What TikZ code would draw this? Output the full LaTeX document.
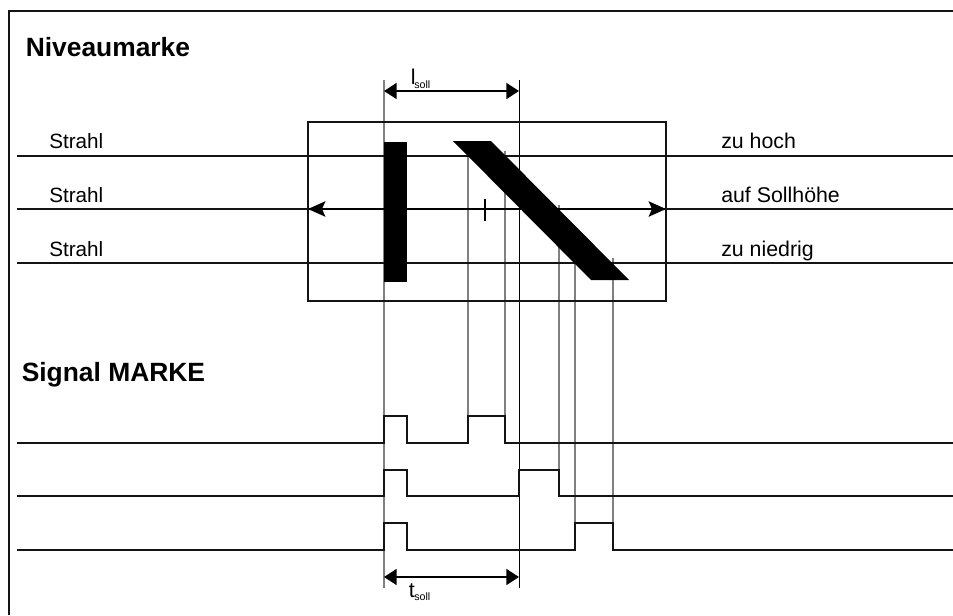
\documentclass[tikz,border=0pt]{standalone}
\usepackage{fontspec}
\setmainfont{Liberation Sans}
\usetikzlibrary{arrows.meta}
\tikzset{
  x=0.75pt,y=-0.75pt,
  frameline/.style={line width=1.9pt,black!92},
  beam/.style={line width=1.5pt,black!92},
  sig/.style={line width=1.5pt,black!92,line join=miter},
  guide/.style={line width=1pt,black!50},
  guideb/.style={line width=0.75pt,black},
  dim/.style={line width=1.2pt,black,{Triangle[length=9.5pt,width=12pt]}-{Triangle[length=9.5pt,width=12pt]}},
  head/.style={anchor=base west,inner sep=0pt,font=\fontsize{19.8}{22}\selectfont\bfseries},
  lab/.style={anchor=base west,inner sep=0pt,font=\fontsize{15.5}{18}\selectfont},
  labr/.style={anchor=base west,inner sep=0pt,font=\fontsize{16}{18}\selectfont},
  sym/.style={anchor=base west,inner sep=0pt,font=\fontsize{16}{18}\selectfont},
  sub/.style={anchor=base west,inner sep=0pt,font=\fontsize{8}{10}\selectfont},
}
\begin{document}
\begin{tikzpicture}
\useasboundingbox (0,0) rectangle (953,615);
\fill[white] (0,0) rectangle (953,615);
% outer frame
\draw[frameline] (953,11) -- (9,11) -- (9,615);
% guides
\coordinate (gA) at (384,80);   \coordinate (gAe) at (384,588);
\coordinate (gB) at (519,80); \coordinate (gBe) at (519,588);
\draw[guide,line width=1.2pt] (gA) -- (gAe);
\draw[guideb] (gB) -- (gBe);
\draw[guide] (468,155) -- (468,443);
\draw[guide] (505,151) -- (505,443);
\draw[guide] (559,205) -- (559,496);
\draw[guide] (575,262) -- (575,550);
\draw[guide] (613,258) -- (613,550);
% beams
\draw[beam] (17,156) -- (953,156);
\draw[beam] (17,209) -- (953,209);
\draw[beam] (17,263) -- (953,263);
% box
\draw[beam] (308,122) rectangle (666,301);
% marks
\fill[black] (384,142) rectangle (407,282);
\fill[black] (453,141) -- (491,141) -- (629,280) -- (591,280) -- cycle;
% measuring arrow in box
\coordinate (mL) at (308,209); \coordinate (mR) at (666,209);
\draw[line width=1.5pt,{Stealth[length=13pt,width=11.5pt,inset=2.5pt]}-{Stealth[length=13pt,width=11.5pt,inset=2.5pt]}] (mL) -- (mR);
\draw[line width=0.9pt] (485,198.5) -- (485,221);
% dimensions
\coordinate (dtL) at (384,91);  \coordinate (dtR) at (519,91);
\coordinate (dbL) at (384,577); \coordinate (dbR) at (519,577);
\draw[dim] (dtL) -- (dtR);
\draw[dim] (dbL) -- (dbR);
% signals
\draw[sig] (17,443) -- (384,443) -- (384,416) -- (407,416) -- (407,443) -- (468,443) -- (468,416) -- (505,416) -- (505,443) -- (953,443);
\draw[sig] (17,496) -- (384,496) -- (384,470) -- (407,470) -- (407,496) -- (519,496) -- (519,470) -- (559,470) -- (559,496) -- (953,496);
\draw[sig] (17,550) -- (384,550) -- (384,523) -- (407,523) -- (407,550) -- (575,550) -- (575,523) -- (613,523) -- (613,550) -- (953,550);
% texts
\node[head] (tNiv) at (25.5,56) {Niveaumarke};
\node[head] (tSig) at (21.5,381) {Signal MARKE};
\node[lab] (s1) at (49,148) {Strahl};
\node[lab] (s2) at (49,202) {Strahl};
\node[lab] (s3) at (49,256) {Strahl};
\node[labr] (r1) at (721,148) {zu hoch};
\node[labr] (r2) at (721,202) {auf Sollhöhe};
\node[labr] (r3) at (721,256) {zu niedrig};
\node[sym] (lS) at (410.5,84) {l};
\node[sub] (lSub) at (414,88) {soll};
\node[sym] (tS) at (408.5,597) {t};
\node[sub] (tSub) at (414,600.5) {soll};
\end{tikzpicture}
\end{document}
